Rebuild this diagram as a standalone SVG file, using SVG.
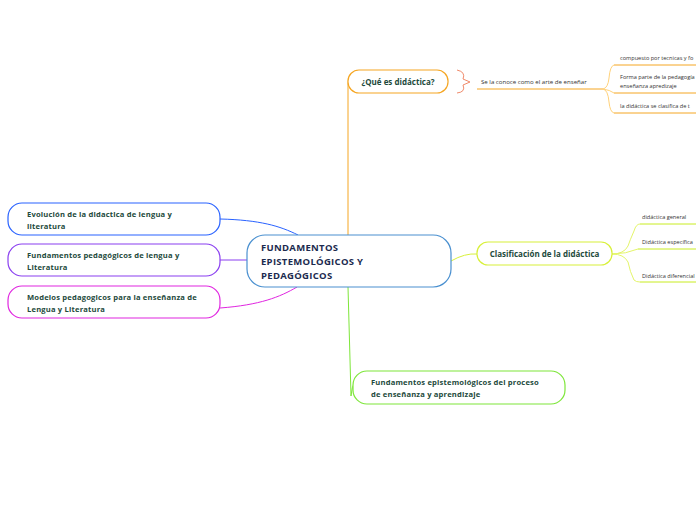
<svg xmlns="http://www.w3.org/2000/svg" width="696" height="520" viewBox="0 0 696 520">
<style>
.n{fill:#fff;stroke-width:1.2}
.t{font-family:"Open Sans","Noto Sans",sans-serif;font-weight:700;fill:#1d4a3c}
.l{font-size:7.6px;letter-spacing:0.18px}
.s{font-family:"Open Sans","Noto Sans",sans-serif;font-size:5.6px;fill:#333}
.c{fill:none;stroke-width:1}
</style>
<rect width="696" height="520" fill="#fff"/>
<g id="connectors">
<path class="c" stroke="#f5a623" d="M348,235 L348,84 Q348,76 354,72"/>
<path class="c" stroke="#7ee63a" d="M348,287 L351,396 Q352,378 366,372"/>
<path class="c" stroke="#2962ff" d="M220,219 C260,220 280,226 298,235"/>
<path class="c" stroke="#8a3ff0" stroke-width="1.5" d="M220,260 L247,260"/>
<path class="c" stroke="#e026e0" d="M220,308 C260,305 280,297 297,287"/>
<path class="c" stroke="#d8f03a" stroke-width="1.5" d="M451,261 Q465,253 477,254"/>
<path class="c" stroke="#f08a6a" d="M457,70 Q466,72 463,79 L470,82 L463,85 Q466,92 457,93"/>
<path class="c" stroke="#f5a623" stroke-width="1.5" d="M477,89 L603,89"/>
<path class="c" stroke="#ffd27a" d="M603,89 Q608,88 609,78 Q610,66 614,65 M603,89 Q610,90 614,93 M603,89 Q608,90 609,102 Q610,112 614,113"/>
<path class="c" stroke="#f5a623" stroke-width="1.5" d="M614,65 L696,65 M614,93 L696,93 M614,113 L696,113"/>
<path class="c" stroke="#e4f56a" d="M612,254 Q624,254 628,246 Q630,240 634,231 Q636,224 640,224 M612,254 Q626,254 638,249 M612,254 Q624,254 628,262 Q630,272 634,280 Q636,282 640,282"/>
<path class="c" stroke="#c8ec20" stroke-width="1.5" d="M640,224 L696,224 M638,249 L696,249 M640,282 L696,282"/>
</g>
<g id="central">
<rect class="n" x="247" y="235" width="204" height="52" rx="18" stroke="#4a90d0"/>
<text font-family="Open Sans,Noto Sans,sans-serif" font-weight="700" font-size="9.5" fill="#1c2b4f" letter-spacing="0.3"><tspan x="261" y="251">FUNDAMENTOS</tspan><tspan x="261" y="265">EPISTEMOLÓGICOS Y</tspan><tspan x="261" y="279">PEDAGÓGICOS</tspan></text>
</g>
<g id="que-es">
<rect class="n" x="348" y="70" width="100" height="23" rx="11" stroke="#f5a623"/>
<text class="t" font-size="8" x="398" y="85" text-anchor="middle">¿Qué es didáctica?</text>
</g>
<g id="arte">
<text class="s" x="481" y="84" style="font-size:6.1px">Se la conoce como el arte de enseñar</text>
</g>
<g id="compuesto"><text class="s" x="620" y="60">compuesto por tecnicas y fo</text></g>
<g id="forma"><text class="s"><tspan x="620" y="79">Forma parte de la pedagogía</tspan><tspan x="620" y="88">enseñanza apredizaje</tspan></text></g>
<g id="clasifica"><text class="s" x="620" y="108">la didáctica se clasifica de t</text></g>
<g id="clasificacion">
<rect class="n" x="477" y="242" width="135" height="23" rx="11" stroke="#d8f03a"/>
<text class="t" font-size="8" x="544.5" y="257" text-anchor="middle">Clasificación de la didáctica</text>
</g>
<g id="general"><text class="s" x="642" y="219">didáctica general</text></g>
<g id="especifica"><text class="s" x="642" y="244">Didáctica específica</text></g>
<g id="diferencial"><text class="s" x="642" y="278">Didáctica diferencial</text></g>
<g id="fundamentos-proceso">
<rect class="n" x="353" y="371" width="212" height="33" rx="14" stroke="#7ee63a"/>
<text class="t l"><tspan x="371" y="385">Fundamentos epistemológicos del proceso</tspan><tspan x="371" y="397">de enseñanza y aprendizaje</tspan></text>
</g>
<g id="evolucion">
<rect class="n" x="8" y="203" width="212" height="32" rx="14" stroke="#2962ff"/>
<text class="t l"><tspan x="27" y="217">Evolución de la didactica de lengua y</tspan><tspan x="27" y="229">literatura</tspan></text>
</g>
<g id="fundamentos-pedagogicos">
<rect class="n" x="8" y="244" width="212" height="32" rx="14" stroke="#8a3ff0"/>
<text class="t l"><tspan x="27" y="258">Fundamentos pedagógicos de lengua y</tspan><tspan x="27" y="270">Literatura</tspan></text>
</g>
<g id="modelos">
<rect class="n" x="8" y="286" width="212" height="32" rx="14" stroke="#e026e0"/>
<text class="t l"><tspan x="27" y="300">Modelos pedagogicos para la enseñanza de</tspan><tspan x="27" y="312">Lengua y Literatura</tspan></text>
</g>
</svg>
